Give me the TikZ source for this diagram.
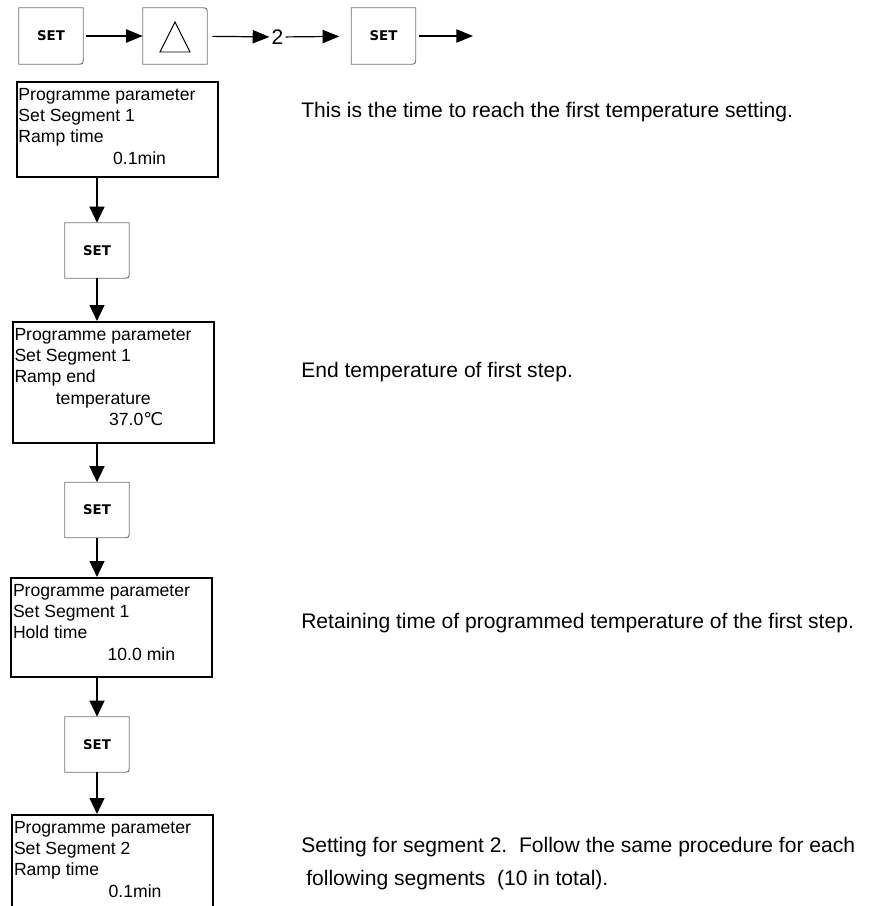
\documentclass[tikz,border=0pt]{standalone}
\usepackage{fontspec}
\setmainfont{Liberation Sans}
\newfontfamily\degfont{DejaVu Sans}
\newfontfamily\keyface{DejaVu Sans}
\usetikzlibrary{arrows.meta}

\newlength\px \setlength\px{0.75pt}
\newcommand{\panelfont}{\fontsize{13.2}{16}\selectfont}
\newcommand{\notefont}{\fontsize{15.8}{24.75}\selectfont}
\newcommand{\keyfont}{\keyface\fontsize{10}{12}\selectfont\bfseries}
% display text, kept at the top of its box
\newcommand{\paneltext}[2]{\parbox[c][#1\px][t]{197\px}{\vspace*{4.5pt}#2}}
% key outlines, one corner rounded
\newcommand{\keydown}[1]{\draw[keyline] (#1.north west) -- (#1.north east) -- ([yshift=7\px]#1.south east) .. controls (#1.south east) .. ([xshift=-7\px]#1.south east) -- (#1.south west) -- cycle;}
\newcommand{\keyup}[1]{\draw[keyline] (#1.south west) -- (#1.north west) -- ([xshift=-7\px]#1.north east) .. controls (#1.north east) .. ([yshift=-7\px]#1.north east) -- (#1.south east) -- cycle;}

\tikzset{
  panel/.style={draw, line width=1.5pt, inner xsep=2\px, inner ysep=0pt, font=\panelfont},
  key/.style={minimum width=64\px, minimum height=56\px, inner sep=0pt, font=\keyfont},
  keyline/.style={draw=black!55, line width=0.7pt},
  topflow/.style={-{Triangle[length=12.5pt,width=10pt]}, line width=0.9pt},
  flow/.style={-{Triangle[length=12pt,width=11pt]}, line width=1.6pt},
  note/.style={anchor=base west, inner sep=0pt, font=\notefont, align=left}
}

\begin{document}
\begin{tikzpicture}[x=0.75pt, y=-0.75pt]
\useasboundingbox (0,0) rectangle (883,906);
\clip (0,0) rectangle (883,906);

% key row
\node[key] (k1) at (51,36) {SET};
\node[key] (k2) at (175,36) {};
\node[font=\notefont, inner sep=1.5pt] (two) at (277.5,37) {2};
\node[key] (k3) at (383.5,36) {SET};
\coordinate (exit) at (473,36);
\keydown{k1}
\keyup{k2}
\keydown{k3}
\draw[line width=0.7pt] ([yshift=14\px]k2.center) -- ([shift={(-15\px,-16\px)}]k2.center) -- ([shift={(15\px,-16\px)}]k2.center) -- cycle;
\draw[topflow, shorten <=3\px] (k1) -- (k2);
\draw[topflow, shorten <=5\px] (k2) -- (two);
\draw[topflow, shorten >=12\px] (two) -- (k3);
\draw[topflow, shorten <=3\px] (k3) -- (exit);

% display boxes
\node[panel] (b1) at (117,129.5) {\paneltext{95}{Programme parameter\\Set Segment 1\\Ramp time\\\hspace*{71pt}0.1min}};
\node[panel] (b2) at (113,382.5) {\paneltext{121}{Programme parameter\\Set Segment 1\\Ramp end\\\hspace*{31pt}temperature\\\hspace*{71pt}37.0{\degfont ℃}}};
\node[panel] (b3) at (111.5,627.5) {\paneltext{99}{Programme parameter\\Set Segment 1\\Hold time\\\hspace*{71pt}10.0 min}};
\node[panel] (b4) at (112.5,864.5) {\paneltext{99}{Programme parameter\\Set Segment 2\\Ramp time\\\hspace*{71pt}0.1min}};

% SET keys between them
\node[key, minimum height=55\px] (s1) at (97,250.5) {SET};
\node[key, minimum height=55\px] (s2) at (97,510) {SET};
\node[key, minimum height=55\px] (s3) at (97,744.5) {SET};
\keydown{s1}
\keydown{s2}
\keydown{s3}

\draw[flow] (b1.south -| s1.north) -- (s1.north);
\draw[flow] (s1.south) -- (s1.south |- b2.north);
\draw[flow] (b2.south -| s2.north) -- (s2.north);
\draw[flow] (s2.south) -- (s2.south |- b3.north);
\draw[flow] (b3.south -| s3.north) -- (s3.north);
\draw[flow] (s3.south) -- (s3.south |- b4.north);

% notes (a two line note sits on its last line)
\node[note] (n1) at (301,117) {This is the time to reach the first temperature setting.};
\node[note] (n2) at (301,377) {End temperature of first step.};
\node[note] (n3) at (301,628) {Retaining time of programmed temperature of the first step.};
\node[note] (n4) at (301,885) {Setting for segment 2.\ \ Follow the same procedure for each\\\hspace*{5\px}following segments\ \ (10 in total).};
\end{tikzpicture}
\end{document}
